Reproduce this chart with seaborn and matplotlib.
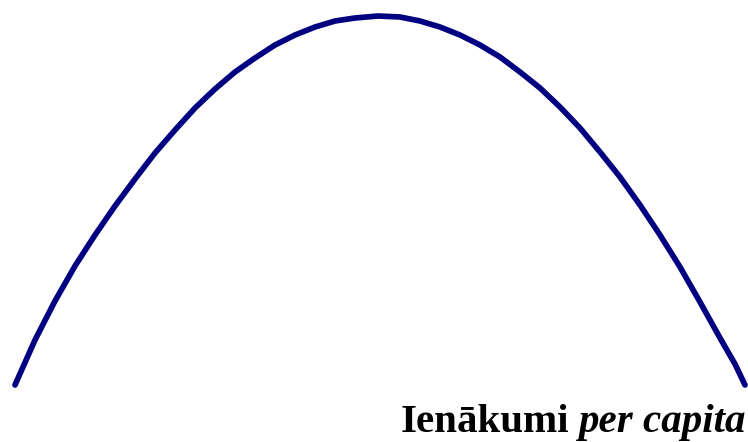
import seaborn as sns
import matplotlib.pyplot as plt
import pandas as pd

# ienakumi (x) un nevienlidziba (y), nolasits no attela
ienakumi = [15, 35, 55, 75, 95, 115, 135, 155, 175, 195, 215, 235, 255, 275, 295, 315, 335, 355, 378,
            400, 420, 440, 460, 480, 500, 520, 540, 560, 580, 600, 620, 640, 660, 680, 700, 720, 735, 745]
nevienlidziba = [57, 102, 141, 176, 207, 236, 263, 289, 312, 334, 353, 370, 384, 397, 407, 415, 421, 424, 426,
                 425, 421, 415, 407, 397, 385, 370, 354, 335, 314, 290, 265, 237, 207, 175, 140, 104, 78, 57]

df = pd.DataFrame({"ienakumi": ienakumi, "nevienlidziba": nevienlidziba})

sns.set_style("white")
fig = plt.figure(figsize=(7.48, 4.42), dpi=100)
ax = fig.add_axes([0, 0, 1, 1])
sns.lineplot(data=df, x="ienakumi", y="nevienlidziba", ax=ax, color="#000080",
             linewidth=4.1, solid_capstyle="round", solid_joinstyle="round")
ax.set_xlim(0, 748)
ax.set_ylim(0, 442)
ax.set_axis_off()

# nosaukums: "Ienākumi" treknraksta, "per capita" kursiva
t2 = fig.text(746 / 748, 10 / 442, "per capita", ha="right", va="baseline", color="black",
              family="Liberation Serif", weight="bold", style="italic", fontsize=29.5)
fig.canvas.draw()
bb = t2.get_window_extent(fig.canvas.get_renderer())
fig.text((bb.x0 - 9) / 748, 10 / 442, "Ienākumi", ha="right", va="baseline", color="black",
         family="Liberation Serif", weight="bold", fontsize=29.5)

plt.savefig("out.png", dpi=100)
